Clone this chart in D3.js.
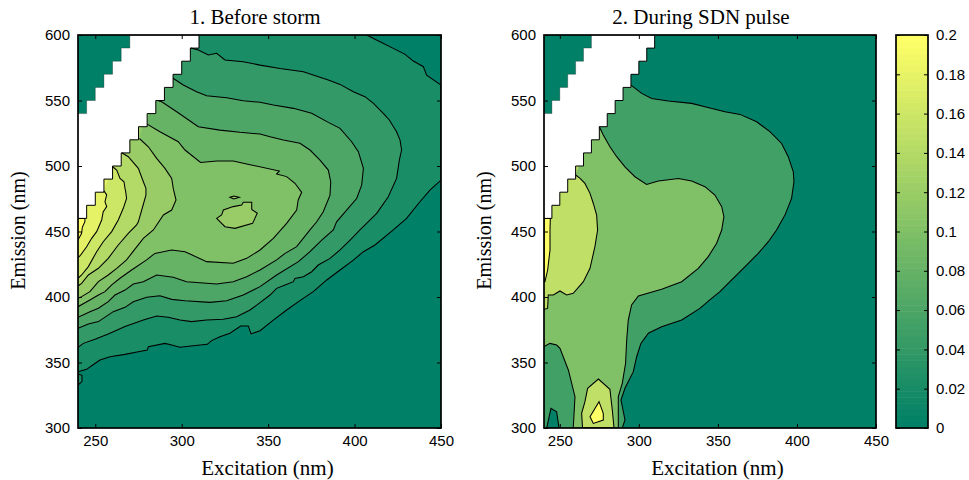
<!DOCTYPE html>
<html>
<head>
<meta charset="utf-8">
<script src="https://cdn.jsdelivr.net/npm/d3@7"></script>
<style>
  html, body { margin: 0; padding: 0; background: #fff; }
  svg { display: block; }
  .num { font-family: "Liberation Sans", sans-serif; font-size: 15px; fill: #000; }
  .lab { font-family: "Liberation Serif", serif; font-size: 21px; fill: #000; }
</style>
</head>
<body>
<svg id="chart" width="969" height="480"></svg>
<script>
// ticks
const excitationTicks = [250, 300, 350, 400, 450];
const emissionTicks = [300, 350, 400, 450, 500, 550, 600];
const barTicks = [0, 0.02, 0.04, 0.06, 0.08, 0.1, 0.12, 0.14, 0.16, 0.18, 0.2];

// scatter gap, no data between these emissions
const gapExcitation = [240, 245, 250, 255, 260, 265, 270, 275, 280, 285, 290, 295, 300, 305, 310];
const gapLower = [460, 470, 480, 490, 500, 510, 520, 530, 540, 550, 560, 570, 580, 590, 600];
const gapUpper = [540, 550, 560, 570, 580, 590, 600, 600, 600, 600, 600, 600, 600, 600, 600];

const before002 = [[240,343],[245,344.8],[248.5,348.1],[252.7,351.9],[258.5,354.4],[267.2,356.2],[274.9,358.2],[280.1,359.5],[280.7,362.1],[290.3,364.6],[294.2,363.3],[299,361.6],[306.7,362.8],[314.8,363.9],[317.3,366.7],[322.1,369.7],[327.9,372.3],[334.1,377.9],[338.5,377.9],[340.1,371.8],[345.3,374.3],[353,382.4],[360.7,390.1],[368.4,397.2],[376.1,404.1],[383.9,413],[391.6,420.6],[399.3,428.2],[405.1,434.6],[411.8,439.7],[422.4,451.2],[430.1,460],[437.8,472.7],[443.6,481.6],[450,489.3],[450,561.8],[441.7,569.4],[439.8,575.8],[434,580.1],[429.2,585.2],[422.4,589.8],[414.7,594.9],[407,600]];
const before004 = [[240,361.6],[243.1,364.6],[249.8,367.7],[257.5,371.7],[267.2,377.4],[277.8,382.4],[285.5,385.5],[292.2,384.5],[299,382.4],[305.7,381.2],[314.4,382.4],[324,383],[331.8,385],[339.5,390.1],[345.3,395.7],[351.1,401.5],[354.9,406.6],[359.8,409.2],[364.6,411.7],[365.5,414.2],[370.4,415.5],[375.2,419.3],[379,424.4],[385.8,429.5],[391.6,435.9],[397.4,443.5],[403.1,451.2],[412.8,463.8],[419.5,476.5],[424.3,490.5],[425.9,504.5],[427.2,512.2],[426.3,519.8],[424.3,526.2],[420.1,535.1],[416.6,540.2],[410.9,547.8],[406,552.9],[399.3,556.7],[391.6,562.3],[384.8,565.6],[370.4,572],[356.9,574.5],[345.3,577],[335.6,579.6],[325,580.9],[320.2,586],[315.4,584.7],[309.6,588.5],[305.2,590]];
const before006 = [[240,376.1],[246,379.4],[251.8,381.2],[260.4,388.8],[267.2,392.1],[272,396.4],[279.7,399.8],[287.4,401],[294.2,398.2],[301.9,397.2],[316.3,395.9],[326,397.2],[335.6,401.5],[345.3,407.9],[354.9,416.8],[367.5,427],[374.2,434.6],[381,443.5],[387.7,451.2],[389.6,457.4],[395.4,466.3],[401.2,475.2],[404.1,485.4],[405.1,498.2],[402.2,510.9],[398.3,518.5],[391.6,528.7],[384.8,533.3],[375.2,540.2],[364.6,544],[353,546.5],[345.3,548.6],[335.6,549.8],[326,552.1],[314.4,553.6],[308.6,556.7],[300.9,561.8],[295,567]];
const before008 = [[240,384.5],[246.9,388.8],[251.8,391.4],[257.5,396.4],[261.4,401.5],[267.2,405.3],[272,409.9],[277.8,411.7],[285.5,416.8],[295.1,415],[302.8,411.7],[320.2,409.9],[329.8,411.7],[337.6,415.5],[345.3,420.6],[354.9,428.3],[359.8,433.3],[366.5,438.4],[374.2,451.2],[378.1,457.4],[381.9,465.1],[385.8,477.8],[386.2,488],[384.8,496.9],[380,504.5],[374.2,512.2],[368.4,517.3],[358.8,519.8],[351.1,522.3],[345.3,524.4],[333.7,525.7],[322.1,527.4],[309.6,530],[297.1,541.4],[288.4,549],[286,550]];
const before010 = [[240,392.6],[246.9,397.7],[251.8,401.5],[255.6,404.1],[259.5,409.2],[264.3,414.3],[271,420.6],[279.7,428.3],[284.5,433.3],[294.2,435.9],[301.9,434.6],[304.8,432.8],[314.4,427],[329.8,425.7],[337.6,429.5],[345.3,435.9],[353,444.8],[360.7,456.2],[366.5,466.4],[367.4,474.1],[369.4,479.9],[365.5,486.8],[360.7,491.9],[354.9,493.9],[356.5,496.2],[337.6,501.5],[329.8,503.8],[320.2,503.8],[310.9,502.7],[301.9,512.2],[298,518.5],[287.4,526.2],[280,532]];
const before012 = [[240,399],[242.1,400.3],[246.9,404.1],[251.8,411.7],[257.5,416.8],[262.4,421.9],[268.1,428.3],[271,433.3],[277.8,444.8],[283.6,451.2],[289.4,462.6],[294.2,466.4],[296.7,474],[295.1,482.9],[294.2,490.5],[290.3,498.2],[285.5,505.8],[280.7,514.7],[275.5,521]];
const before014 = [[240,408.4],[242.1,410.4],[246,416.8],[251.8,421.9],[257.5,429.5],[263.3,439.7],[269.1,448.6],[273.9,455],[274.9,457.4],[277.4,468.9],[279.3,477.8],[279.3,482.9],[277.8,488],[274.9,498.2],[269.1,507.1],[265.3,510.1]];
const before016 = [[240,414.3],[242.1,416.8],[246,423.2],[250.8,434.6],[254.6,442.2],[259.5,449.9],[263.3,458.8],[266.2,467.7],[268.1,475.3],[267.6,480.4],[267.2,482.9],[266.6,488],[264.3,490.5],[262.4,496.9],[260,499.4]];
const before018 = [[240,430],[241.1,431.3],[245,438.4],[247.9,444.8],[250.8,449.9],[253.7,458.8],[254.6,465.1],[256.6,469],[255.6,472.8],[256.6,477.9],[255,481]];
const before020 = [[240,443.5],[242.1,448.6],[242.5,453.2],[244,457.5],[244,460],[240,460]];
const beforePatch = [[320.2,460],[323.1,462.6],[324.1,466.4],[329.8,469],[334.7,470.2],[335.6,472.3],[340.5,472.3],[340.5,466.9],[343.7,463.9],[341,456.2],[330.8,452.4],[325,453.7]];
const beforeEye = [[327.9,476.1],[330.2,477.1],[333.3,476.1],[330.2,474.8]];
const beforeEdge = [[240,341.2],[242.3,340.2],[242.3,335.4],[240,332.8]];

const after005 = [[295,561.8],[301.8,555.4],[308.1,551.6],[318.6,549.6],[333.4,547.8],[341.8,545.2],[354.5,541.4],[364,539.4],[374.5,533.8],[382.9,526.2],[390.3,517.2],[394.5,507.1],[397.7,495.6],[398.1,488],[396.6,475.3],[392.4,462.5],[387.1,451.1],[381.9,442.2],[375.5,433.3],[366.1,421.9],[357.6,411.7],[351.3,404.1],[346,399],[338.6,391.3],[327.1,382.4],[314.4,377.3],[306,372.3],[301.3,364.6],[298.6,354.4],[296.5,343],[291.2,330.3],[288.7,321.4],[290.2,312.4],[291.2,306.1],[289.5,300]];
const after010 = [[275,530],[277.5,523.6],[281.7,514.7],[286,507.1],[291.2,499.4],[297.5,491.8],[304.9,485.9],[312.3,488.5],[325,490.5],[333.4,488.5],[341.8,484.2],[348.1,477.8],[352.4,468.9],[353.8,461.3],[352.4,451.1],[349.2,441],[343.9,430.8],[337.6,421.9],[327.1,411.7],[314.4,405.9],[299.7,400.8],[295.4,393.9],[293.3,382.4],[292.3,367.2],[291.6,349.4],[289.5,334.1],[287,323.9],[287,300],[258.5,300],[259.6,323.9],[255.4,344.3],[250.1,360.8],[248,363.3],[243.8,364.6],[240,362.1]];
const after015 = [[260,493.1],[262.8,490.5],[265.9,486.7],[269.1,479.1],[271.2,471.4],[273.3,462.5],[273.9,451.1],[272.2,438.4],[269.1,421.9],[264.9,411.7],[258.5,402.8],[254.3,401.5],[250.1,404.6],[245.9,401.5],[242.7,401.5],[242.3,391.3],[240,390.6]];
const after015Peak = [[264.4,300],[263.8,311.2],[265.9,320.1],[267.6,330.3],[274.4,337.4],[281.7,329.5],[283.2,313.7],[284.3,300]];
const after020Peak = [[269.1,308.6],[274.8,320.1],[277.5,311.2],[277.5,306.1],[271.2,303.5]];
const after020Edge = [[240,460],[244,460],[243.8,451],[243.8,435.9],[242.3,420.6],[240.6,411.7],[240,411.7]];
const afterHole = [[241.7,300],[244.4,315],[248,312.4],[249.5,300]];

// where a level's outline gets closed, hidden behind the gap
const tailBefore = [[290, 600], [240, 500]];
const tailAfterLow = [[240, 300], [240, 500], [290, 600]];
const tailAfter = [[240, 500], [290, 600]];

const panels = [
  {
    title: "1. Before storm", titleX: 255, labelX: 267.5, left: 78, right: 441,
    bands: [
      { level: 0.02, line: before002, tail: tailBefore },
      { level: 0.04, line: before004, tail: tailBefore },
      { level: 0.06, line: before006, tail: tailBefore },
      { level: 0.08, line: before008, tail: tailBefore },
      { level: 0.1, line: before010, tail: tailBefore },
      { level: 0.12, line: before012, tail: tailBefore },
      { level: 0.14, line: before014, tail: tailBefore },
      { level: 0.16, line: before016, tail: tailBefore },
      { level: 0.18, line: before018, tail: tailBefore },
      { level: 0.2, line: before020, tail: tailBefore }
    ],
    rings: [
      { level: 0.02, line: beforeEdge },
      { level: 0.12, line: beforePatch },
      { level: 0.12, line: beforeEye }
    ]
  },
  {
    title: "2. During SDN pulse", titleX: 701, labelX: 717.5, left: 544, right: 876,
    bands: [
      { level: 0.05, line: after005, tail: tailAfterLow },
      { level: 0.1, line: after010, tail: tailAfter },
      { level: 0.15, line: after015, tail: tailAfter }
    ],
    rings: [
      { level: 0, line: afterHole },
      { level: 0.15, line: after015Peak },
      { level: 0.2, line: after020Peak },
      { level: 0.2, line: after020Edge }
    ]
  }
];

const plotTop = 35, plotBottom = 428;
const svg = d3.select("#chart");
// same ramp as matlab "summer"
const color = d3.scaleLinear().domain([0, 0.2]).range(["#008066", "#ffff66"]);
const y = d3.scaleLinear().domain([300, 600]).range([plotBottom, plotTop]);

function styleTicks(g) {
  g.select(".domain").remove();
  g.selectAll("line").attr("stroke", "#000");
  g.selectAll("text").attr("class", "num");
}

panels.forEach((p, idx) => {
  const x = d3.scaleLinear().domain([240, 450]).range([p.left, p.right]);
  const line = d3.line().x(d => x(d[0])).y(d => y(d[1]));
  const w = p.right - p.left, h = plotBottom - plotTop;
  const id = "clip" + idx;

  svg.append("clipPath").attr("id", id).append("rect")
    .attr("x", p.left).attr("y", plotTop).attr("width", w).attr("height", h);
  const plot = svg.append("g").attr("clip-path", `url(#${id})`);

  plot.append("rect").attr("x", p.left).attr("y", plotTop)
    .attr("width", w).attr("height", h).attr("fill", color(0));

  plot.selectAll("path.fill").data(p.bands).enter().append("path")
    .attr("class", "fill")
    .attr("d", d => line(d.line.concat(d.tail)) + "Z")
    .attr("fill", d => color(d.level));

  const gap = d3.area()
    .x((d, i) => x(gapExcitation[i]))
    .y0((d, i) => y(gapLower[i]))
    .y1((d, i) => y(gapUpper[i]))
    .curve(d3.curveStepAfter);
  plot.append("path").datum(gapExcitation).attr("d", gap).attr("fill", "#fff");

  plot.selectAll("path.ring").data(p.rings).enter().append("path")
    .attr("class", "ring")
    .attr("d", d => line(d.line) + "Z")
    .attr("fill", d => color(d.level))
    .attr("stroke", "#000").attr("stroke-width", 1.05);

  plot.selectAll("path.level").data(p.bands).enter().append("path")
    .attr("class", "level")
    .attr("d", d => line(d.line))
    .attr("fill", "none").attr("stroke", "#000").attr("stroke-width", 1.05);

  plot.append("path").datum(gapExcitation).attr("d", gap.lineY0())
    .attr("fill", "none").attr("stroke", "#000").attr("stroke-width", 1);
  plot.append("path").datum(gapExcitation).attr("d", gap.lineY1())
    .attr("fill", "none").attr("stroke", "#000").attr("stroke-opacity", 0.4).attr("stroke-width", 0.7);

  // axes, ticks point inwards on all four sides
  svg.append("g").attr("transform", `translate(0,${plotBottom})`)
    .call(d3.axisBottom(x).tickValues(excitationTicks).tickSizeInner(-4).tickSizeOuter(0).tickPadding(7))
    .call(styleTicks);
  svg.append("g").attr("transform", `translate(0,${plotTop})`)
    .call(d3.axisTop(x).tickValues(excitationTicks).tickSizeInner(-4).tickSizeOuter(0).tickFormat(""))
    .call(styleTicks);
  svg.append("g").attr("transform", `translate(${p.left},0)`)
    .call(d3.axisLeft(y).tickValues(emissionTicks).tickSizeInner(-4).tickSizeOuter(0).tickPadding(8))
    .call(styleTicks);
  svg.append("g").attr("transform", `translate(${p.right},0)`)
    .call(d3.axisRight(y).tickValues(emissionTicks).tickSizeInner(-4).tickSizeOuter(0).tickFormat(""))
    .call(styleTicks);

  svg.append("rect").attr("x", p.left).attr("y", plotTop).attr("width", w).attr("height", h)
    .attr("fill", "none").attr("stroke", "#000").attr("stroke-width", 1.7);

  svg.append("text").attr("class", "lab").attr("text-anchor", "middle")
    .attr("x", p.titleX).attr("y", 24).text(p.title);
  svg.append("text").attr("class", "lab").attr("text-anchor", "middle")
    .attr("x", p.labelX).attr("y", 475).text("Excitation (nm)");
  svg.append("text").attr("class", "lab").attr("text-anchor", "middle")
    .style("font-size", "20px")
    .attr("transform", `translate(${p.left - 53},${(plotTop + plotBottom) / 2 - 1}) rotate(-90)`)
    .text("Emission (nm)");
});

// colorbar
const barLeft = 896, barRight = 928;
const barY = d3.scaleLinear().domain([0, 0.2]).range([plotBottom, plotTop]);
const steps = d3.range(64);
svg.append("g").selectAll("rect").data(steps).enter().append("rect")
  .attr("x", barLeft).attr("width", barRight - barLeft)
  .attr("y", d => barY((d + 1) / 64 * 0.2))
  .attr("height", d => barY(d / 64 * 0.2) - barY((d + 1) / 64 * 0.2) + 0.5)
  .attr("fill", d => color(d / 63 * 0.2));
svg.append("g").attr("transform", `translate(${barRight},0)`)
  .call(d3.axisRight(barY).tickValues(barTicks).tickSizeInner(-4).tickSizeOuter(0).tickPadding(8).tickFormat(d => String(d)))
  .call(styleTicks);
svg.append("g").attr("transform", `translate(${barLeft},0)`)
  .call(d3.axisLeft(barY).tickValues(barTicks).tickSizeInner(-4).tickSizeOuter(0).tickFormat(""))
  .call(styleTicks);
svg.append("rect").attr("x", barLeft).attr("y", plotTop)
  .attr("width", barRight - barLeft).attr("height", plotBottom - plotTop)
  .attr("fill", "none").attr("stroke", "#000").attr("stroke-width", 1.7);
</script>
</body>
</html>
